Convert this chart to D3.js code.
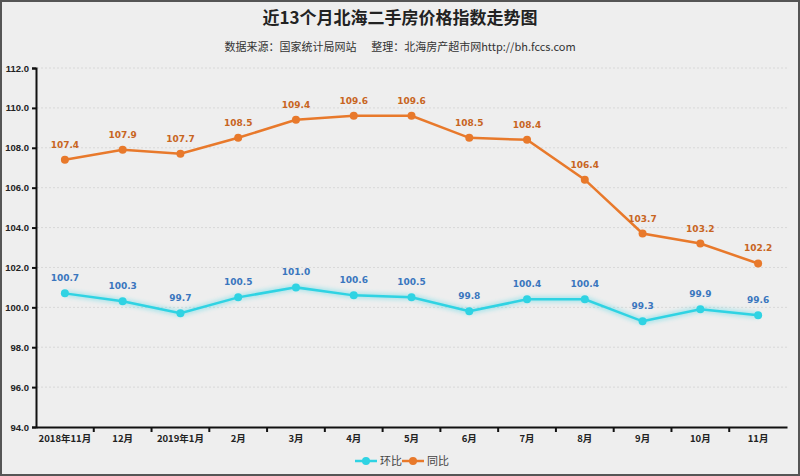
<!DOCTYPE html>
<html><head><meta charset="utf-8">
<script src="https://cdn.jsdelivr.net/npm/d3@7"></script>
<style>
html,body{margin:0;padding:0;background:#eeeeee;}
svg{display:block;}
</style></head>
<body>
<svg id="chart" width="800" height="476"></svg>
<script>
const categories = ["2018年11月","12月","2019年1月","2月","3月","4月","5月","6月","7月","8月","9月","10月","11月"];
const huanbi = [100.7,100.3,99.7,100.5,101.0,100.6,100.5,99.8,100.4,100.4,99.3,99.9,99.6];
const tongbi = [107.4,107.9,107.7,108.5,109.4,109.6,109.6,108.5,108.4,106.4,103.7,103.2,102.2];
const yTicks = [94,96,98,100,102,104,106,108,110,112];
const title = "近13个月北海二手房价格指数走势图";
const subtitle = "数据来源：国家统计局网站      整理：北海房产超市网http://bh.fccs.com";
const seriesNames = ["环比","同比"];

const W = 800, H = 476;
const svg = d3.select("#chart");
const font = "'Noto Sans CJK SC','Noto Sans',sans-serif";

svg.append("rect").attr("x",0).attr("y",0).attr("width",W).attr("height",H).attr("fill","#eeeeee");
svg.append("rect").attr("x",1).attr("y",1).attr("width",W-2).attr("height",H-2)
  .attr("fill","none").attr("stroke","#555").attr("stroke-width",2);

const x = d3.scaleBand().domain(categories).range([36, 787]);
const y = d3.scaleLinear().domain([94,112]).range([427, 68]);

// grid
svg.append("g").selectAll("line").data(yTicks.filter(d=>d>94)).join("line")
  .attr("x1",37).attr("x2",787).attr("y1",d=>y(d)).attr("y2",d=>y(d))
  .attr("stroke","#d8d8d8").attr("stroke-width",1).attr("stroke-dasharray","2,2");

// title
svg.append("text").attr("x",W/2).attr("y",24).attr("text-anchor","middle")
  .attr("font-family",font).attr("font-size",17).attr("font-weight","bold").attr("fill","#222").text(title);
svg.append("text").attr("x",W/2).attr("y",51).attr("text-anchor","middle")
  .attr("font-family",font).attr("font-size",11).attr("fill","#333").style("white-space","pre").text(subtitle);

// axes
const yAxis = d3.axisLeft(y).tickValues(yTicks).tickFormat(d3.format(".1f")).tickSize(4);
const gy = svg.append("g").attr("transform","translate(36,0)").call(yAxis);
gy.select(".domain").attr("stroke","#111").attr("stroke-width",2);
gy.selectAll(".tick line").attr("stroke","#111").attr("stroke-width",2);
gy.selectAll("text").attr("font-family","'Liberation Sans',Arial,sans-serif").attr("font-size",9.5).attr("font-weight","bold").attr("fill","#222");

const xAxis = d3.axisBottom(x).tickSize(0);
const gx = svg.append("g").attr("transform","translate(0,427)").call(xAxis);
gx.select(".domain").attr("stroke","#111").attr("stroke-width",2);
gx.selectAll("text").attr("dy","1.3em").attr("font-family",font).attr("font-size",9.5).attr("font-weight","bold").attr("fill","#222");
// band boundary ticks
svg.append("g").selectAll("line").data(categories.slice(1)).join("line")
  .attr("x1",d=>x(d)).attr("x2",d=>x(d)).attr("y1",427).attr("y2",432)
  .attr("stroke","#111").attr("stroke-width",2);

const cx = (d,i)=> x(categories[i]) + x.bandwidth()/2;
const line = d3.line().x((d,i)=>cx(d,i)).y(d=>y(d));

// glow filter
const defs = svg.append("defs");
const f = defs.append("filter").attr("id","glow").attr("x","-10%").attr("y","-50%").attr("width","120%").attr("height","200%");
f.append("feGaussianBlur").attr("stdDeviation",2);

function drawSeries(data, color, labelColor, glow){
  const g = svg.append("g");
  if(glow){
    g.append("path").datum(data).attr("d",line).attr("fill","none")
      .attr("stroke",color).attr("stroke-width",6).attr("opacity",0.35).attr("filter","url(#glow)");
  }
  g.append("path").datum(data).attr("d",line).attr("fill","none")
    .attr("stroke",color).attr("stroke-width",2.5);
  g.selectAll("circle").data(data).join("circle")
    .attr("cx",cx).attr("cy",d=>y(d)).attr("r",4).attr("fill",color);
  g.selectAll("text").data(data).join("text")
    .attr("x",cx).attr("y",d=>y(d)-12).attr("text-anchor","middle")
    .attr("font-family","'DejaVu Sans',sans-serif").attr("font-size",9).attr("font-weight","bold")
    .attr("fill",labelColor).text(d=>d3.format(".1f")(d));
}
drawSeries(tongbi, "#e8792b", "#c8651f", false);
drawSeries(huanbi, "#2fd3e3", "#3a76be", true);

// legend
const leg = svg.append("g").attr("transform","translate(355,461)");
const items = [{n:seriesNames[0],c:"#2fd3e3"},{n:seriesNames[1],c:"#e8792b"}];
items.forEach((it,i)=>{
  const gx0 = i*47;
  const gg = leg.append("g").attr("transform",`translate(${gx0},0)`);
  gg.append("line").attr("x1",0).attr("x2",22).attr("y1",0).attr("y2",0).attr("stroke",it.c).attr("stroke-width",2.5);
  gg.append("circle").attr("cx",11).attr("cy",0).attr("r",4).attr("fill",it.c);
  gg.append("text").attr("x",25).attr("y",4).attr("font-family",font).attr("font-size",11).attr("fill","#444").text(it.n);
});
</script>
</body></html>
